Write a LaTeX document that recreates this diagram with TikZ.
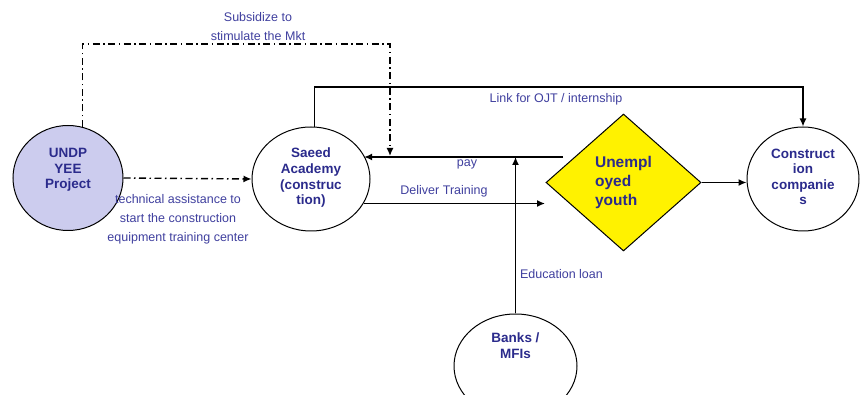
\documentclass[tikz,border=0pt]{standalone}
\usepackage{fontspec}
\setmainfont{Liberation Sans}
\usetikzlibrary{shapes.geometric,arrows.meta}
\definecolor{lbl}{HTML}{3F3F9E}
\definecolor{ntx}{HTML}{2B2B8C}
\definecolor{undpfill}{HTML}{CCCCEE}
\newcommand{\upby}[2]{\raisebox{#1}[0pt][0pt]{\begin{tabular}{@{}c@{}}#2\end{tabular}}}
\begin{document}
\begin{tikzpicture}[x=1pt,y=-1pt,
  oval/.style={ellipse,draw,line width=1pt,inner sep=0pt,align=center,text=ntx,
     font=\fontsize{13.5}{15.6}\selectfont\bfseries},
  lab/.style={text=lbl,font=\fontsize{12.5}{19}\selectfont,align=center,inner sep=0pt},
  conn/.style={line width=1.4pt,-{Latex[length=8pt,width=7pt]}},
  dd/.style={conn,dash pattern=on 7pt off 3.5pt on 1.5pt off 3.5pt}]
\useasboundingbox (0,0) rectangle (860,395);
\node[oval,fill=undpfill,minimum width=110pt,minimum height=105pt] (undp) at (68,178) {\upby{4.5pt}{UNDP\\YEE\\Project}};
\node[oval,fill=white,minimum width=118pt,minimum height=104pt] (saeed) at (311,179) {\upby{-2.7pt}{Saeed\\Academy\\(construc\\tion)}};
\node[diamond,draw,line width=1pt,fill=yellow,minimum width=155pt,minimum height=137pt,inner sep=0pt,
  align=left,text=ntx,font=\fontsize{15.5}{19}\selectfont\bfseries] (youth) at (623.5,182.5) {Unempl\\oyed\\youth};
\node[oval,fill=white,minimum width=112pt,minimum height=104pt] (constr) at (803,179) {\upby{-3pt}{Construct\\ion\\companie\\s}};
\node[oval,fill=white,minimum width=123pt,minimum height=104pt] (banks) at (515.5,366) {\upby{15pt}{Banks /\\MFIs}};
\coordinate (sub) at (390,44);
\coordinate (subend) at (390,156);
\coordinate (ojt) at (803,87);
\coordinate (paystart) at (563,157);
\coordinate (delend) at (545,201);
\draw[dd] (undp.74) |- (sub) -- (subend);
\draw[dd] (undp.east) -- (saeed.west);
\draw[conn] (saeed.86) |- (ojt) -- (constr.north);
\draw[conn] (paystart) -- (paystart -| saeed.24);
\draw[conn] (saeed.-25) -- (saeed.-25 -| delend);
\draw[conn] (banks.north) -- (banks.north |- paystart);
\draw[conn] (youth.east) -- (youth.east -| constr.west);
\node[lab] (lsub) at (258,27) {Subsidize to\\stimulate the Mkt};
\node[lab] (lojt) at (556,99) {Link for OJT / internship};
\node[lab] (ltech) at (178,219) {technical assistance to\\start the construction\\equipment training center};
\node[lab] (lpay) at (467,164) {pay};
\node[lab] (ldel) at (444,191) {Deliver Training};
\node[lab] (ledu) at (561.5,274) {Education loan};
\end{tikzpicture}
\end{document}
